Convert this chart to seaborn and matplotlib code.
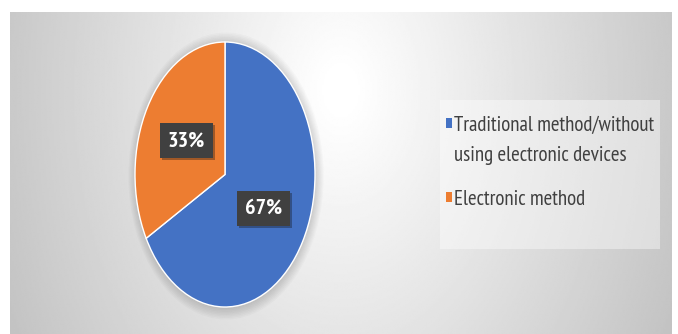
import numpy as np
import matplotlib
matplotlib.use("Agg")
import matplotlib.pyplot as plt
import matplotlib.patheffects as pe
from matplotlib.patches import Rectangle, Ellipse
import seaborn as sns

# Survey shares
categories = ["Traditional method/without\nusing electronic devices", "Electronic method"]
shares = [67, 33]
colors = sns.color_palette(["#4472C4", "#ED7D31"])

sns.set_theme(style="white")
plt.rcParams["font.family"] = ["PT Sans Narrow", "Carlito", "DejaVu Sans"]

W, H = 678, 334
fig = plt.figure(figsize=(W / 100, H / 100), dpi=100, facecolor="white")

# Background canvas in pixel coordinates (origin top-left)
bg = fig.add_axes([0, 0, 1, 1])
bg.set_xlim(0, W)
bg.set_ylim(H, 0)
bg.axis("off")

# Radial grey gradient behind the chart area
px0, px1, py0, py1 = 10, 672, 12, 334
xs = np.linspace(px0, px1, 400)
ys = np.linspace(py0, py1, 200)
X, Y = np.meshgrid(xs, ys)
dist = np.sqrt(((X - 341) / 0.68) ** 2 + (Y - 90) ** 2)
shade = np.clip(255 - 0.115 * np.maximum(dist - 20, 0), 185, 255) / 255.0
bg.imshow(shade, cmap="gray", vmin=0, vmax=1, extent=(px0, px1, py1, py0),
          aspect="auto", interpolation="bilinear", zorder=0)

# Soft shadow under the pie
for k in range(8):
    bg.add_patch(Ellipse((226, 176), 180 + 2.2 * k, 266 + 3 * k,
                         facecolor="black", alpha=0.018, lw=0, zorder=1))

# Legend panel
bg.add_patch(Rectangle((440, 100), 220, 149, facecolor="white", alpha=0.4,
                       lw=0, zorder=2))
first_baselines = [131, 205]
line_gap = 30
for lab, col, base in zip(categories, colors, first_baselines):
    bg.add_patch(Rectangle((446, base - 13), 6, 10, facecolor=col, lw=0, zorder=3))
    for i, line in enumerate(lab.split("\n")):
        bg.text(454, base + i * line_gap, line, fontsize=15, color="#404040",
                va="baseline", ha="left", zorder=3)

# Pie (stretched vertically)
ax = fig.add_axes([135 / W, 1 - 307 / H, 180 / W, 265 / H])
wedges, texts, autotexts = ax.pie(
    shares, colors=colors, startangle=90, counterclock=False, radius=1,
    autopct="%d%%", pctdistance=0.5,
    textprops=dict(color="white", fontsize=16, fontweight="bold"),
)
ax.set_aspect("auto")
ax.set_xlim(-1, 1)
ax.set_ylim(-1, 1)
ax.axis("off")
ax.patch.set_alpha(0)

for t in autotexts:
    t.set_bbox(dict(boxstyle="square,pad=0.36", facecolor="#404040",
                    edgecolor="none"))
    t.get_bbox_patch().set_path_effects(
        [pe.SimplePatchShadow(offset=(1.5, -1.5), alpha=0.35), pe.Normal()])

fig.savefig("out.png", dpi=100, facecolor="white")
